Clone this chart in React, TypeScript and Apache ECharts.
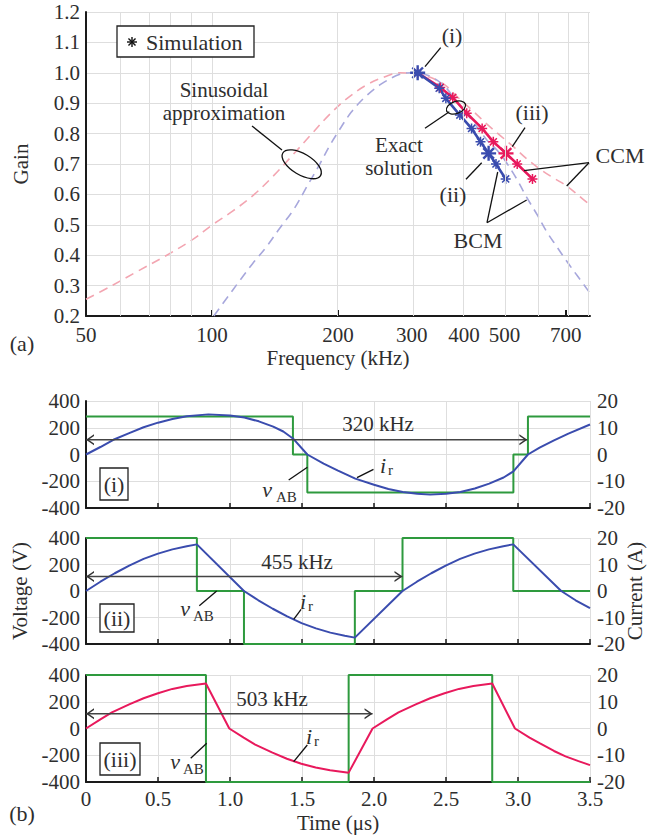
import React, { useEffect, useRef } from "react";
import * as echarts from "echarts";

const FONT = "Liberation Serif, serif";
const INK = "#2e2e2e";
const AXIS = "#1a1a1a";
const GRIDC = "#dedede";

const BLUE = "#3a4cae";
const PINK = "#e8195c";
const GREEN = "#2e9a3e";
const PINK_D = "#f3a5b1";
const BLUE_D = "#a7a7dc";

// ---------------- panel (a): gain vs frequency (kHz) ----------------
const freqMin = 50;
const freqMax = 800;
const freqLabels = [50, 100, 200, 300, 400, 500, 700];
const freqTickMarks = [100, 200, 700];
const freqGridLines = [60, 70, 80, 90, 100, 200, 300, 400, 500, 600, 700, 800];

const ccmFhaFreq = [50, 57, 66, 78, 90, 100, 112, 125, 140, 156, 172, 190, 210, 234, 260, 281, 305, 332, 360, 384, 420, 453, 490, 525, 565, 609, 655, 705, 750, 800];
const ccmFhaGain = [0.255, 0.296, 0.345, 0.4, 0.452, 0.499, 0.545, 0.595, 0.66, 0.73, 0.795, 0.86, 0.915, 0.96, 0.988, 1.0, 0.997, 0.985, 0.96, 0.923, 0.875, 0.832, 0.792, 0.757, 0.717, 0.682, 0.654, 0.627, 0.597, 0.565];

const bcmFhaFreq = [101, 108, 116.7, 125, 135, 145, 156.5, 170, 181, 191, 199, 215, 234, 255, 281, 300, 330, 360, 384, 420, 453, 480, 505, 535, 564, 600, 630, 665, 704, 750, 800];
const bcmFhaGain = [0.2, 0.255, 0.318, 0.372, 0.428, 0.488, 0.549, 0.635, 0.7, 0.76, 0.8, 0.87, 0.925, 0.965, 0.995, 1.0, 0.99, 0.955, 0.905, 0.84, 0.78, 0.745, 0.705, 0.65, 0.592, 0.53, 0.478, 0.43, 0.38, 0.328, 0.275];

const bcmSimFreq = [310, 349, 362, 391, 417, 438, 458, 477, 503];
const bcmSimGain = [1.0, 0.949, 0.916, 0.861, 0.817, 0.773, 0.735, 0.7, 0.651];
const ccmSimFreq = [310, 351, 376, 406, 442, 470, 504, 536, 583];
const ccmSimGain = [1.0, 0.952, 0.919, 0.867, 0.817, 0.773, 0.735, 0.7, 0.651];
const bcmBigIdx = [0, 6];
const ccmBigIdx = [6];

// ---------------- panel (b): waveforms, time in µs ----------------
const timeMax = 3.5;

const v1T = [0, 1.437, 1.537, 2.968, 3.069, 3.5];
const v1L = [285, 0, -285, 0, 285, 285];
const i1T = [0, 0.1, 0.19, 0.3, 0.4, 0.5, 0.6, 0.7, 0.85, 1.0, 1.1, 1.2, 1.3, 1.37, 1.437, 1.537, 1.65, 1.75, 1.87, 2.0, 2.1, 2.2, 2.3, 2.39, 2.5, 2.6, 2.7, 2.8, 2.9, 2.968, 3.069, 3.15, 3.25, 3.35, 3.5];
const i1A = [0, 2.8, 5.5, 8.0, 10.2, 11.9, 13.3, 14.3, 15.0, 14.6, 13.8, 12.4, 10.4, 8.6, 6.0, 0, -3.4, -6.0, -9.0, -11.3, -12.9, -14.0, -14.7, -15.0, -14.7, -14.0, -12.7, -10.9, -8.6, -6.3, 0, 2.6, 5.3, 7.8, 11.2];

const v2T = [0, 0.77, 1.097, 1.867, 2.198, 2.967, 3.5];
const v2L = [400, 0, -400, 0, 400, 0, 0];
const i2T = [0, 0.1, 0.2, 0.3, 0.4, 0.5, 0.6, 0.7, 0.77, 1.097, 1.197, 1.297, 1.397, 1.497, 1.597, 1.697, 1.797, 1.867, 2.198, 2.298, 2.398, 2.498, 2.598, 2.698, 2.798, 2.898, 2.967, 3.3, 3.4, 3.5];
const i2A = [0, 3.5, 6.7, 9.6, 12.1, 14.1, 15.7, 16.9, 17.6, 0, -3.5, -6.7, -9.6, -12.1, -14.1, -15.7, -16.9, -17.6, 0, 3.5, 6.7, 9.6, 12.1, 14.1, 15.7, 16.9, 17.6, 0, -3.5, -6.5];

const v3T = [0, 0.833, 1.824, 2.821, 3.5];
const v3L = [400, -400, 400, -400, -400];
const i3T = [0, 0.1, 0.18, 0.3, 0.4, 0.5, 0.6, 0.7, 0.833, 0.995, 1.095, 1.175, 1.295, 1.395, 1.495, 1.595, 1.695, 1.824, 1.99, 2.09, 2.17, 2.29, 2.39, 2.49, 2.59, 2.69, 2.821, 2.979, 3.08, 3.153, 3.25, 3.33, 3.42, 3.5];
const i3A = [0, 3.4, 6.0, 9.0, 11.3, 13.2, 14.8, 15.9, 16.8, 0, -3.4, -6.0, -9.0, -11.3, -13.2, -14.6, -15.6, -16.5, 0, 3.4, 6.0, 9.0, 11.3, 13.2, 14.8, 15.9, 16.8, 0, -3.4, -5.6, -8.4, -10.4, -12.2, -13.7];

const panelFreqText = ["320 kHz", "455 kHz", "503 kHz"];
const arrowLevel = 110;
const arrowEnd = [3.065, 2.198, 1.99];
const panelCurrentColor = [BLUE, BLUE, PINK];

const ASTERISK = "path://M5,0L5,10M0,5L10,5M1.46,1.46L8.54,8.54M1.46,8.54L8.54,1.46";
const CHEV_L = "path://M10,0L0,5L10,10L10,8.4L3.2,5L10,1.6Z";
const CHEV_R = "path://M0,0L10,5L0,10L0,8.4L6.8,5L0,1.6Z";

const lg = (f: number) => Math.log10(f);

function buildOption() {
  const grids = [
    { left: 86, top: 12, width: 504, height: 304 },
    { left: 86, top: 401, width: 504, height: 107 },
    { left: 86, top: 538, width: 504, height: 106 },
    { left: 86, top: 675, width: 504, height: 107 },
  ].map((g) => ({ ...g, outerBoundsMode: "none", containLabel: false }));

  const labelStyle = { fontFamily: FONT, fontSize: 21, color: INK };
  const nameStyle = { fontFamily: FONT, fontSize: 21, color: INK };

  const xAxis: any[] = [
    {
      gridIndex: 0,
      type: "value",
      min: lg(freqMin),
      max: lg(freqMax),
      axisLine: { show: true, onZero: false, lineStyle: { color: AXIS, width: 2 } },
      axisTick: { show: true, inside: true, length: 6, customValues: freqTickMarks.map(lg), lineStyle: { color: AXIS, width: 2 } },
      axisLabel: {
        ...labelStyle,
        margin: 8,
        customValues: freqLabels.map(lg),
        formatter: (v: number) => String(Math.round(Math.pow(10, v))),
      },
      splitLine: { show: false },
      name: "Frequency (kHz)",
      nameLocation: "middle",
      nameGap: 31,
      nameTextStyle: nameStyle,
    },
  ];
  for (let k = 1; k <= 3; k++) {
    xAxis.push({
      gridIndex: k,
      type: "value",
      min: 0,
      max: timeMax,
      interval: 0.5,
      axisLine: { show: true, onZero: false, lineStyle: { color: AXIS, width: 2 } },
      axisTick: { show: true, inside: true, length: 5, lineStyle: { color: AXIS, width: 1.5 } },
      axisLabel: { show: k === 3, ...labelStyle, margin: 6, formatter: (v: number) => (v === 0 ? "0" : v.toFixed(1)) },
      splitLine: { show: true, lineStyle: { color: GRIDC, width: 1 } },
      name: k === 3 ? "Time (μs)" : "",
      nameLocation: "middle",
      nameGap: 30,
      nameTextStyle: nameStyle,
    });
  }

  const yAxis: any[] = [
    {
      gridIndex: 0,
      type: "value",
      min: 0.2,
      max: 1.2,
      interval: 0.1,
      axisLine: { show: true, onZero: false, lineStyle: { color: AXIS, width: 2 } },
      axisTick: { show: false },
      axisLabel: { ...labelStyle, margin: 6, formatter: (v: number) => v.toFixed(1) },
      splitLine: { show: true, lineStyle: { color: GRIDC, width: 1 } },
      name: "Gain",
      nameLocation: "middle",
      nameGap: 55,
      nameTextStyle: nameStyle,
    },
  ];
  for (let k = 1; k <= 3; k++) {
    yAxis.push({
      gridIndex: k,
      type: "value",
      position: "left",
      min: -400,
      max: 400,
      interval: 200,
      axisLine: { show: true, onZero: false, lineStyle: { color: AXIS, width: 2 } },
      axisTick: { show: false },
      axisLabel: { ...labelStyle, margin: 6 },
      splitLine: { show: true, lineStyle: { color: GRIDC, width: 1 } },
      name: k === 2 ? "Voltage (V)" : "",
      nameLocation: "middle",
      nameGap: 56,
      nameTextStyle: nameStyle,
    });
    yAxis.push({
      gridIndex: k,
      type: "value",
      position: "right",
      min: -20,
      max: 20,
      interval: 10,
      axisLine: { show: false },
      axisTick: { show: false },
      axisLabel: { ...labelStyle, margin: 7 },
      splitLine: { show: false },
    });
  }

  const series: any[] = [];
  // vertical grid lines of the log frequency axis
  series.push({
    type: "line",
    xAxisIndex: 0,
    yAxisIndex: 0,
    data: [],
    silent: true,
    z: 1,
    markLine: {
      silent: true,
      symbol: ["none", "none"],
      label: { show: false },
      lineStyle: { color: GRIDC, width: 1, type: "solid" },
      data: freqGridLines.map((f) => ({ xAxis: lg(f) })),
    },
  });
  series.push({
    type: "line",
    name: "CCM FHA",
    xAxisIndex: 0,
    yAxisIndex: 0,
    data: ccmFhaFreq.map((f, i) => [lg(f), ccmFhaGain[i]]),
    smooth: 0.35,
    showSymbol: false,
    lineStyle: { color: PINK_D, width: 1.6, type: [9, 6] },
    z: 2,
  });
  series.push({
    type: "line",
    name: "BCM FHA",
    xAxisIndex: 0,
    yAxisIndex: 0,
    data: bcmFhaFreq.map((f, i) => [lg(f), bcmFhaGain[i]]),
    smooth: 0.35,
    showSymbol: false,
    lineStyle: { color: BLUE_D, width: 1.6, type: [9, 6] },
    z: 2,
  });
  const simSeries = (freq: number[], gain: number[], big: number[], color: string, name: string) => ({
    type: "line",
    name,
    xAxisIndex: 0,
    yAxisIndex: 0,
    data: freq.map((f, i) => ({
      value: [lg(f), gain[i]],
      symbolSize: big.includes(i) ? 15 : 10,
      itemStyle: { borderWidth: big.includes(i) ? 2.4 : 1.5 },
    })),
    symbol: ASTERISK,
    showSymbol: true,
    showAllSymbol: true,
    lineStyle: { color, width: 2.6 },
    itemStyle: { color: color, borderColor: color, borderWidth: 1.5 },
    z: 3,
  });
  series.push(simSeries(ccmSimFreq, ccmSimGain, ccmBigIdx, PINK, "CCM exact"));
  series.push(simSeries(bcmSimFreq, bcmSimGain, bcmBigIdx, BLUE, "BCM exact"));

  const panels = [
    { vT: v1T, vL: v1L, iT: i1T, iA: i1A },
    { vT: v2T, vL: v2L, iT: i2T, iA: i2A },
    { vT: v3T, vL: v3L, iT: i3T, iA: i3A },
  ];
  panels.forEach((p, idx) => {
    const k = idx + 1;
    const vy = 2 * k - 1;
    const iy = 2 * k;
    series.push({
      type: "line",
      name: "vAB " + k,
      xAxisIndex: k,
      yAxisIndex: vy,
      data: p.vT.map((t, i) => [t, p.vL[i]]),
      step: "end",
      showSymbol: false,
      clip: false,
      lineStyle: { color: GREEN, width: 2 },
      z: 3,
    });
    series.push({
      type: "line",
      name: "ir " + k,
      xAxisIndex: k,
      yAxisIndex: iy,
      data: p.iT.map((t, i) => [t, p.iA[i]]),
      showSymbol: false,
      lineStyle: { color: panelCurrentColor[idx], width: 2 },
      z: 4,
    });
    series.push({
      type: "line",
      name: "period " + k,
      xAxisIndex: k,
      yAxisIndex: vy,
      data: [
        { value: [0, arrowLevel], symbol: CHEV_L, symbolOffset: [4, 0] },
        { value: [arrowEnd[idx], arrowLevel], symbol: CHEV_R, symbolOffset: [-4, 0] },
      ],
      symbolSize: [8, 11],
      showSymbol: true,
      lineStyle: { color: "#444", width: 1.5 },
      itemStyle: { color: "#333" },
      z: 5,
    });
  });

  // ---------------- annotations ----------------
  const g: any[] = [];
  const txt = (text: string, x: number, y: number, opts: any = {}) =>
    g.push({
      type: "text",
      x,
      y,
      rotation: opts.rotation || 0,
      z: 50,
      style: {
        text,
        fill: INK,
        font: `${opts.italic ? "italic " : ""}${opts.size || 21}px ${FONT}`,
        align: opts.align || "center",
        verticalAlign: "middle",
        lineHeight: opts.lineHeight,
      },
    });
  const ln = (x1: number, y1: number, x2: number, y2: number, w = 1.3) =>
    g.push({ type: "line", z: 50, shape: { x1, y1, x2, y2 }, style: { stroke: "#111", lineWidth: w } });
  const ell = (cx: number, cy: number, rx: number, ry: number, rot: number) =>
    g.push({ type: "ellipse", x: cx, y: cy, rotation: rot, z: 50, shape: { cx: 0, cy: 0, rx, ry }, style: { fill: "none", stroke: "#111", lineWidth: 1.3 } });
  const box = (x: number, y: number, w: number, h: number) =>
    g.push({ type: "rect", z: 49, shape: { x, y, width: w, height: h }, style: { fill: "#fff", stroke: "#222", lineWidth: 1.3 } });

  // legend box
  box(117, 26, 137, 31);
  txt("Simulation", 146, 42, { align: "left", size: 22 });
  const ax = 132, ay = 42, r = 5;
  ln(ax, ay - r, ax, ay + r, 1.4);
  ln(ax - r, ay, ax + r, ay, 1.4);
  ln(ax - r * 0.707, ay - r * 0.707, ax + r * 0.707, ay + r * 0.707, 1.4);
  ln(ax - r * 0.707, ay + r * 0.707, ax + r * 0.707, ay - r * 0.707, 1.4);

  txt("Sinusoidal\napproximation", 224, 101, { size: 21, lineHeight: 23 });
  ln(252, 126, 282, 150);
  ell(301.7, 164.3, 22, 10.5, -0.54);

  txt("(i)", 452, 35, { size: 22 });
  ln(440.7, 47.7, 425, 66.7);
  txt("Exact\nsolution", 399, 156, { size: 21, lineHeight: 23 });
  ln(425, 128.3, 449.3, 111.7);
  ell(456, 107.5, 10, 6, 0.35);
  txt("(iii)", 532, 112, { size: 22 });
  ln(525, 127.7, 512.3, 146.7);
  txt("(ii)", 453, 194, { size: 22 });
  ln(466, 179.3, 481.7, 162.7);
  txt("BCM", 478, 240, { size: 22 });
  ln(487, 222.7, 497.7, 172);
  ln(487, 222.7, 526.7, 200);
  txt("CCM", 620, 155, { size: 22 });
  ln(589, 162.7, 524, 170.7);
  ln(589, 162.7, 566.7, 186);

  txt("(a)", 22, 343, { size: 22 });
  txt("(b)", 22, 813, { size: 22 });

  // right-hand axis title of panel (b)
  txt("Current (A)", 635, 591, { rotation: Math.PI / 2 });

  // panel (i)
  txt(panelFreqText[0], 378, 424);
  box(100, 468, 28, 32);
  txt("(i)", 114, 484, { size: 22 });
  txt("v", 267, 489, { italic: true, size: 22 });
  txt("AB", 276, 497, { size: 15, align: "left" });
  ln(288.7, 480, 307.4, 467.3);
  txt("i", 383, 465, { italic: true, size: 22 });
  txt("r", 388, 470, { size: 15, align: "left" });
  ln(373.5, 469.3, 357, 477.7);

  // panel (ii)
  txt(panelFreqText[1], 297, 562);
  box(100, 604, 34, 28);
  txt("(ii)", 117, 618, { size: 22 });
  txt("v", 185, 608, { italic: true, size: 22 });
  txt("AB", 193, 616, { size: 15, align: "left" });
  ln(199.3, 605.7, 216.7, 591);
  txt("i", 303, 601, { italic: true, size: 22 });
  txt("r", 308, 606, { size: 15, align: "left" });
  ln(301.1, 609.3, 293.7, 619.3);

  // panel (iii)
  txt(panelFreqText[2], 272, 699);
  box(100, 743, 40, 32);
  txt("(iii)", 120, 759, { size: 22 });
  txt("v", 175, 761, { italic: true, size: 22 });
  txt("AB", 183, 769, { size: 15, align: "left" });
  ln(190.7, 758.3, 206.7, 743.3);
  txt("i", 309, 736, { italic: true, size: 22 });
  txt("r", 314, 741, { size: 15, align: "left" });
  ln(307.3, 745, 293.7, 761.7);

  return {
    animation: false,
    backgroundColor: "#ffffff",
    textStyle: { fontFamily: FONT },
    grid: grids,
    xAxis,
    yAxis,
    series,
    graphic: { elements: g },
  };
}

export default function App() {
  const ref = useRef<HTMLDivElement | null>(null);
  useEffect(() => {
    if (!ref.current) return;
    const chart = echarts.init(ref.current, undefined, { renderer: "svg" });
    chart.setOption(buildOption() as any);
    return () => chart.dispose();
  }, []);
  return (
    <div
      ref={ref}
      style={{ position: "fixed", left: 0, top: 0, width: 647, height: 837, background: "#fff" }}
    />
  );
}
